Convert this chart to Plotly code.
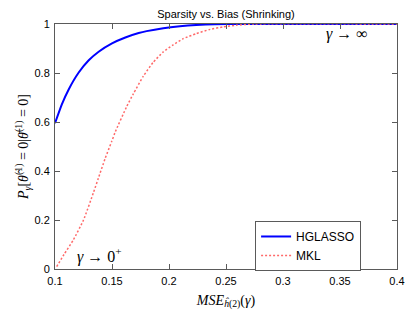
import plotly.graph_objects as go

hglasso_x = [0.1, 0.106, 0.112, 0.1208, 0.1296, 0.1383, 0.15, 0.1617, 0.1734, 0.1804,
             0.195, 0.2096, 0.224, 0.24, 0.26, 0.4]
hglasso_y = [0.595, 0.672, 0.733, 0.802, 0.852, 0.887, 0.921, 0.945, 0.963, 0.971,
             0.983, 0.991, 0.996, 0.999, 1.0, 1.0]

mkl_x = [0.1015, 0.108, 0.116, 0.125, 0.1336, 0.138, 0.1439, 0.1497, 0.1529, 0.1629,
         0.1687, 0.1775, 0.186, 0.195, 0.2037, 0.2125, 0.224, 0.236, 0.2476, 0.259, 0.275, 0.4]
mkl_y = [0.01, 0.06, 0.118, 0.20, 0.31, 0.37, 0.45, 0.52, 0.56, 0.663,
         0.715, 0.787, 0.843, 0.886, 0.915, 0.94, 0.961, 0.978, 0.988, 0.995, 1.0, 1.0]

x_ticks = [0.1, 0.15, 0.2, 0.25, 0.3, 0.35, 0.4]
x_tick_labels = ["0.1", "0.15", "0.2", "0.25", "0.3", "0.35", "0.4"]
y_ticks = [0, 0.2, 0.4, 0.6, 0.8, 1]
y_tick_labels = ["0", "0.2", "0.4", "0.6", "0.8", "1"]

fig = go.Figure()
fig.add_trace(go.Scatter(x=hglasso_x, y=hglasso_y, mode="lines", name="HGLASSO",
                         line=dict(color="rgb(0,0,255)", width=2, shape="spline", smoothing=0.5)))
fig.add_trace(go.Scatter(x=mkl_x, y=mkl_y, mode="lines", name="MKL",
                         line=dict(color="rgb(255,105,105)", width=1.5, dash="2px,2px",
                                   shape="spline", smoothing=0.5)))

serif = "Liberation Serif, Times New Roman, serif"
sans = "Liberation Sans, Arial, sans-serif"
axis_common = dict(showgrid=False, zeroline=False, showline=True, linecolor="rgb(90,90,90)",
                   linewidth=1, mirror="ticks", ticks="inside", ticklen=5, automargin=False,
                   tickcolor="rgb(90,90,90)", tickfont=dict(size=11, color="black", family=sans))

# The page body has an 8 px margin, so the figure is sized/margined to compensate.
fig_w, fig_h = 407, 310
fig.update_layout(
    width=fig_w, height=fig_h,
    margin=dict(l=47, r=18, t=16, b=49),
    paper_bgcolor="white", plot_bgcolor="white",
    title=dict(text="Sparsity vs. Bias (Shrinking)", xref="paper", x=0.5, xanchor="center",
               yref="container", y=1 - 6.5 / fig_h, yanchor="middle",
               font=dict(size=11, color="black", family=sans)),
    xaxis=dict(range=[0.1, 0.4], tickvals=x_ticks, ticktext=x_tick_labels, ticklabelstandoff=2,
               title=dict(text="<i>MSE</i><sub><i>ĥ</i>(2)</sub>(<i>γ</i>)", standoff=8,
                          font=dict(size=14, family=serif, color="black")),
               **axis_common),
    yaxis=dict(range=[0, 1], tickvals=y_ticks, ticktext=y_tick_labels, ticklabelstandoff=2,
               title=dict(text="<i>P</i><sub><i>γ</i></sub>[<i>θ̂</i><sup>(1)</sup> = 0|<i>θ̄</i><sup>(1)</sup> = 0]",
                          standoff=2, font=dict(size=14, family=serif, color="black")),
               **axis_common),
    legend=dict(x=0.895, y=0.196, xanchor="right", yanchor="top", bgcolor="white",
                bordercolor="rgb(90,90,90)", borderwidth=1,
                font=dict(size=12, color="black", family=sans),
                tracegroupgap=0, itemwidth=30),
    showlegend=True,
)

fig.add_annotation(x=0.3557, y=0.959, text="<i>γ</i> → ∞", showarrow=False,
                   font=dict(size=16, family=serif, color="black"))
fig.add_annotation(x=0.1386, y=0.057, text="<i>γ</i> → 0<sup>+</sup>", showarrow=False,
                   font=dict(size=16, family=serif, color="black"))

fig.write_html("out.html")
